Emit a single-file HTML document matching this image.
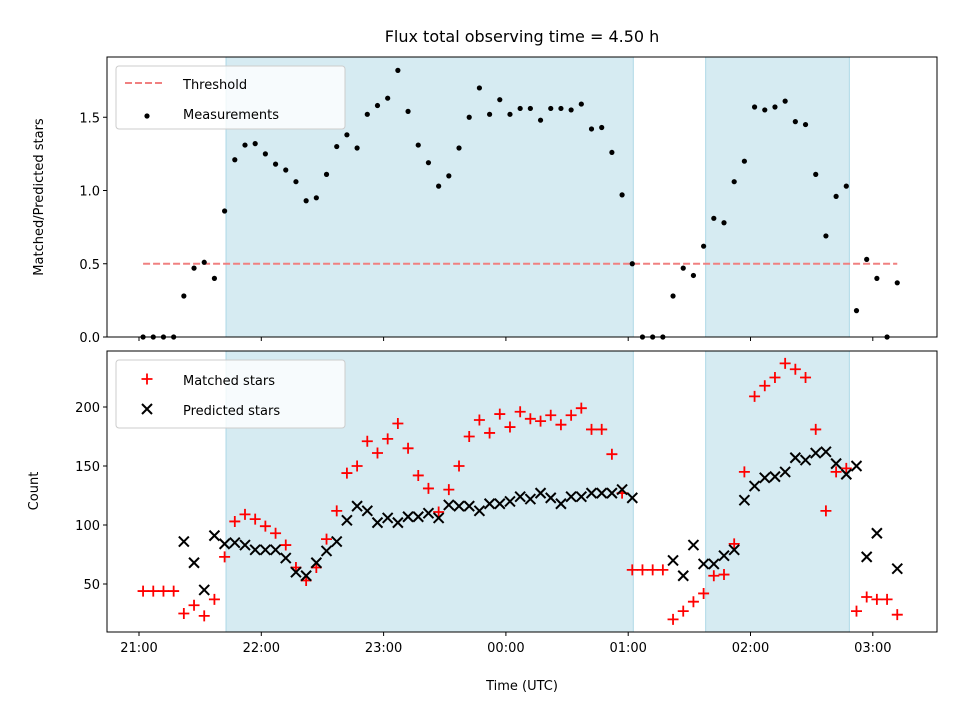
<!DOCTYPE html>
<html><head><meta charset="utf-8"><style>
body{margin:0;background:#fff;font-family:"Liberation Sans","DejaVu Sans",sans-serif}
svg text{font-family:"DejaVu Sans","Liberation Sans",sans-serif;font-size:13px;fill:#000}
</style></head><body>
<svg id="c" width="960" height="720"></svg>
<script>
const ratio=[0,0,0,0,0.28,0.47,0.51,0.40,0.86,1.21,1.31,1.32,1.25,1.18,1.14,1.06,0.93,0.95,1.11,1.30,1.38,1.29,1.52,1.58,1.63,1.82,1.54,1.31,1.19,1.03,1.10,1.29,1.50,1.70,1.52,1.62,1.52,1.56,1.56,1.48,1.56,1.56,1.55,1.59,1.42,1.43,1.26,0.97,0.50,0,0,0,0.28,0.47,0.42,0.62,0.81,0.78,1.06,1.20,1.57,1.55,1.57,1.61,1.47,1.45,1.11,0.69,0.96,1.03,0.18,0.53,0.40,0,0.37];
const matched=[44,44,44,44,25,32,23,37,73,103,109,105,99,93,83,64,53,64,88,112,144,150,171,161,173,186,165,142,131,111,130,150,175,189,178,194,183,196,190,188,193,185,193,199,181,181,160,127,62,62,62,62,20,27,35,42,57,58,84,145,209,218,225,237,232,225,181,112,145,148,27,39,37,37,24];
const predicted=[null,null,null,null,86,68,45,91,84,85,83,79,79,79,72,60,57,68,78,86,104,116,112,102,106,102,107,107,110,106,117,116,116,112,118,118,120,124,122,127,123,118,124,124,127,127,127,130,123,null,null,null,70,57,83,67,67,74,79,121,133,140,141,145,157,155,161,162,152,143,150,73,93,null,63];
const shaded=[[42.7,242.5],[278,348.5]]; // minutes from 21:00
const xTicks=["21:00","22:00","23:00","00:00","01:00","02:00","03:00"];
const topTicks=[0,0.5,1.0,1.5];
const botTicks=[50,100,150,200];
const threshold=0.5;
const NS="http://www.w3.org/2000/svg",svg=document.getElementById('c');
function el(t,a,p){const e=document.createElementNS(NS,t);for(const k in a)e.setAttribute(k,a[k]);(p||svg).appendChild(e);return e;}
const X=m=>139+m*122.3/60, tOf=i=>2+5*i;
const L=107,R=937,T1=57,B1=337,T2=351,B2=632;
const Y1=v=>337-v*146.5, Y2=v=>643-v*1.18;
function panel(T,B){
 for(const s of shaded){const r=el('rect',{x:X(s[0]),y:T,width:X(s[1])-X(s[0]),height:B-T,fill:'#add8e6','fill-opacity':0.5,stroke:'#add8e6'});
 }
 xTicks.forEach((t,i)=>{el('line',{x1:X(i*60),x2:X(i*60),y1:B,y2:B+4,stroke:'#000'});});
}
panel(T1,B1);panel(T2,B2);
const th=el('line',{x1:X(tOf(0)),x2:X(tOf(74)),y1:Y1(threshold),y2:Y1(threshold),stroke:'#f08080','stroke-width':2,'stroke-dasharray':'7,3'});

ratio.forEach((v,i)=>{const c=el('circle',{cx:X(tOf(i)),cy:Y1(v),r:2.6,fill:'#000'});
});
matched.forEach((v,i)=>{const x=X(tOf(i)),y=Y2(v);const g=el('path',{d:`M${x-5.5},${y}h11M${x},${y-5.5}v11`,stroke:'#f00','stroke-width':1.8});
});
predicted.forEach((v,i)=>{if(v==null)return;const x=X(tOf(i)),y=Y2(v);const g=el('path',{d:`M${x-5},${y-5}l10,10M${x-5},${y+5}l10,-10`,stroke:'#000','stroke-width':2});
});
el('rect',{x:L,y:T1,width:R-L,height:B1-T1,fill:'none',stroke:'#000'});
el('rect',{x:L,y:T2,width:R-L,height:B2-T2,fill:'none',stroke:'#000'});
xTicks.forEach((t,i)=>{const tx=el('text',{x:X(i*60),y:B2+20,'text-anchor':'middle'});tx.textContent=t;
});
topTicks.forEach(v=>{el('line',{x1:L-4,x2:L,y1:Y1(v),y2:Y1(v),stroke:'#000'});const t=el('text',{x:L-7,y:Y1(v)+5,'text-anchor':'end'});t.textContent=v.toFixed(1);
});
botTicks.forEach(v=>{el('line',{x1:L-4,x2:L,y1:Y2(v),y2:Y2(v),stroke:'#000'});const t=el('text',{x:L-7,y:Y2(v)+5,'text-anchor':'end'});t.textContent=v;
});
function txt(s,a,name){const t=el('text',a);t.textContent=s;return t;}
txt('Flux total observing time = 4.50 h',{x:522,y:42,'text-anchor':'middle','style':'font-size:16px'},'chart-title');
txt('Time (UTC)',{x:522,y:690,'text-anchor':'middle'},'x-axis-title');
txt('Matched/Predicted stars',{x:43,y:197,'text-anchor':'middle',transform:'rotate(-90 43 197)'},'top-y-axis-title');
txt('Count',{x:38,y:491,'text-anchor':'middle',transform:'rotate(-90 38 491)'},'bottom-y-axis-title');
let lg=el('g',{});
el('rect',{x:116,y:66,width:229,height:63,rx:3,fill:'#fff','fill-opacity':0.8,stroke:'#ccc'},lg);
el('line',{x1:125,x2:165,y1:83,y2:83,stroke:'#f08080','stroke-width':2,'stroke-dasharray':'7,3'},lg);
el('circle',{cx:147,cy:116,r:2.6,fill:'#000'},lg);
txt('Threshold',{x:183,y:89},'legend-threshold');txt('Measurements',{x:183,y:119},'legend-measurements');
lg=el('g',{});
el('rect',{x:116,y:360,width:229,height:68,rx:3,fill:'#fff','fill-opacity':0.8,stroke:'#ccc'},lg);
el('path',{d:'M141.5,379h11M147,373.5v11',stroke:'#f00','stroke-width':1.8},lg);
el('path',{d:'M142,404l10,10M142,414l10,-10',stroke:'#000','stroke-width':2},lg);
txt('Matched stars',{x:183,y:385},'legend-matched');txt('Predicted stars',{x:183,y:415},'legend-predicted');
</script></body></html>
